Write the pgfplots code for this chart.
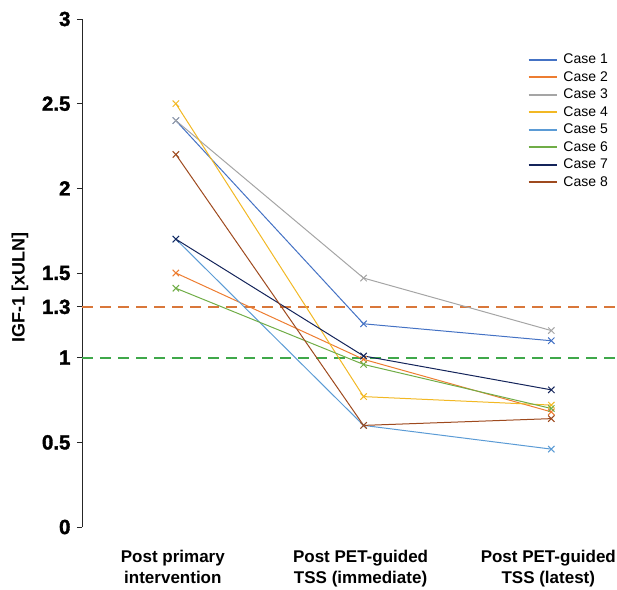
\documentclass[border=0pt]{standalone}
\usepackage{fontspec}
\setmainfont{Liberation Sans}
\newfontfamily\heavyfont[FakeBold=1.6]{Liberation Sans}
\usepackage{pgfplots}
\pgfplotsset{compat=1.18}

\definecolor{caseA}{HTML}{4472C4}
\definecolor{caseB}{HTML}{ED7D31}
\definecolor{caseC}{HTML}{A5A5A5}
\definecolor{caseD}{HTML}{F2B824}
\definecolor{caseE}{HTML}{5B9BD5}
\definecolor{caseF}{HTML}{70AD47}
\definecolor{caseG}{HTML}{14245A}
\definecolor{caseH}{HTML}{9E4A1E}
\definecolor{refO}{HTML}{D9773A}
\definecolor{refG}{HTML}{3FA84A}

\begin{document}
\begin{tikzpicture}
\begin{axis}[
    width=535pt, height=508pt, scale only axis,
    xmin=-0.5, xmax=2.35, ymin=0, ymax=3,
    axis lines*=left,
    x axis line style={draw=none},
    y axis line style={line width=0.9pt, color=black!85},
    xtick={0,1,2},
    xticklabels={Post primary\\intervention, Post PET-guided\\TSS (immediate), Post PET-guided\\TSS (latest)},
    xtick style={draw=none},
    ytick={0,0.5,1,1.3,1.5,2,2.5,3},
    yticklabels={0,0.5,1,1.3,1.5,2,2.5,3},
    tick align=outside, major tick length=5pt,
    ytick style={line width=0.8pt, color=black!85},
    y tick label style={font=\fontsize{20.5}{24}\heavyfont\bfseries, xshift=-3pt},
    x tick label style={font=\fontsize{17}{21}\selectfont\bfseries, align=center, yshift=-15pt, xshift=-3pt},
    ylabel={IGF-1 [xULN]},
    ylabel style={font=\fontsize{18}{22}\selectfont\bfseries, at={(rel axis cs:0,0.472)}, anchor=center, yshift=62pt},
    legend style={draw=none, fill=none, at={(1,0.939)}, anchor=north east,
        font=\fontsize{14}{17}\selectfont, row sep=2.2pt,
        nodes={inner xsep=6pt}},
    legend cell align=left,
    legend image code/.code={\draw[#1, line width=1.8pt] (0pt,0pt) -- (28pt,0pt);},
    every axis plot/.append style={line width=1pt, mark=x, mark size=4.5pt, mark options={solid}},
]
\addplot[refO, dashed, dash pattern=on 11pt off 7pt, line width=1.8pt, mark=none, forget plot] coordinates {(-0.5,1.3) (2.35,1.3)};
\addplot[refG, dashed, dash pattern=on 11pt off 7pt, line width=1.8pt, mark=none, forget plot] coordinates {(-0.5,1.0) (2.35,1.0)};

\addplot[caseA] coordinates {(0,2.4) (1,1.2) (2,1.1)};
\addplot[caseB] coordinates {(0,1.5) (1,0.99) (2,0.68)};
\addplot[caseC] coordinates {(0,2.4) (1,1.47) (2,1.16)};
\addplot[caseD] coordinates {(0,2.5) (1,0.77) (2,0.72)};
\addplot[caseE] coordinates {(0,1.7) (1,0.6) (2,0.46)};
\addplot[caseF] coordinates {(0,1.41) (1,0.96) (2,0.7)};
\addplot[caseG] coordinates {(0,1.7) (1,1.01) (2,0.81)};
\addplot[caseH] coordinates {(0,2.2) (1,0.6) (2,0.64)};
\legend{Case 1, Case 2, Case 3, Case 4, Case 5, Case 6, Case 7, Case 8}
\coordinate (lowleft) at (rel axis cs:0,0);
\coordinate (upright) at (rel axis cs:1,1);
\end{axis}
\pgfresetboundingbox
\path ([shift={(-82pt,-62pt)}]lowleft) rectangle ([shift={(0pt,19pt)}]upright);
\end{tikzpicture}
\end{document}
